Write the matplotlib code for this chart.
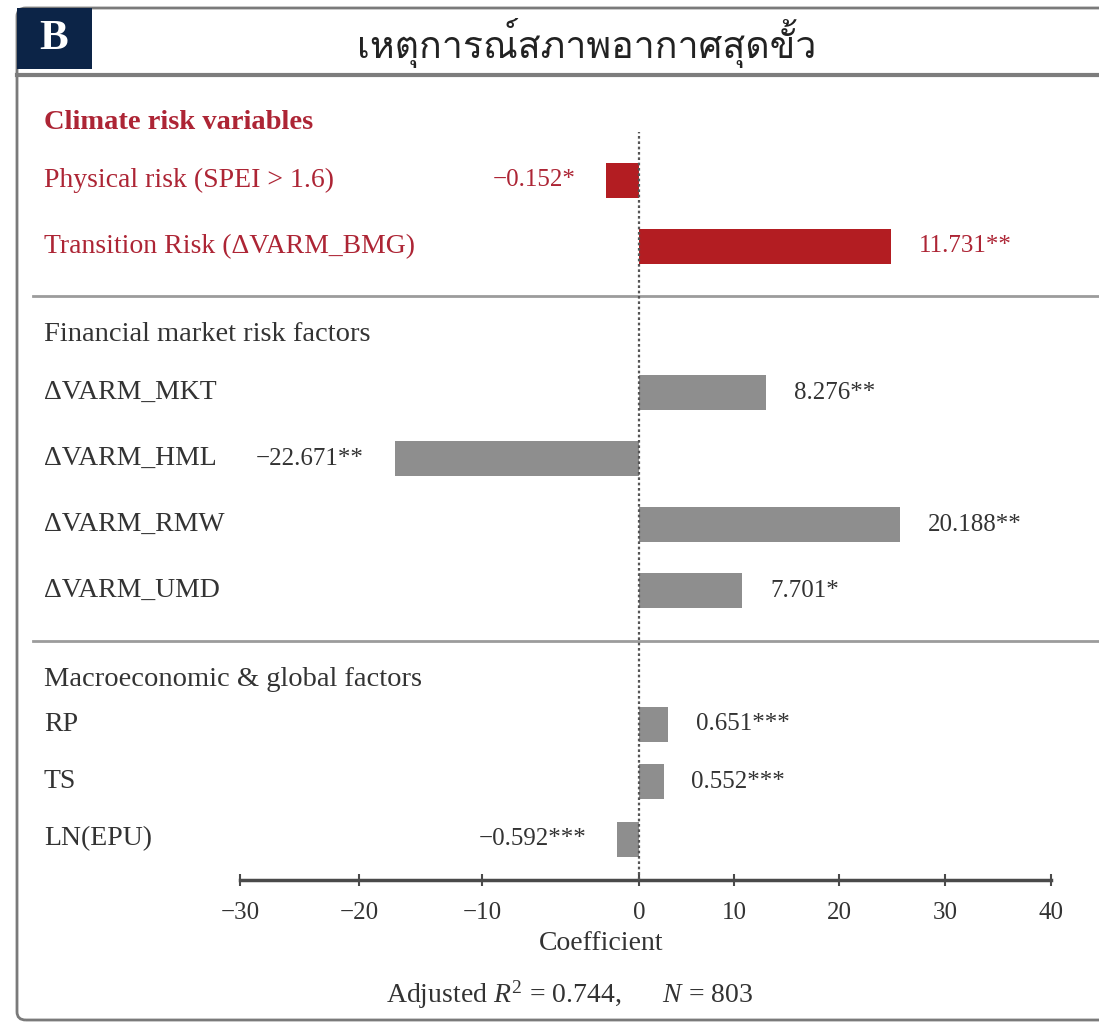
import numpy as np
import matplotlib
matplotlib.use("Agg")
import matplotlib.pyplot as plt
from matplotlib import font_manager
from matplotlib.ft2font import FT2Font
from matplotlib.patches import Rectangle, FancyBboxPatch
from matplotlib.transforms import blended_transform_factory

# ---- data -------------------------------------------------------------
title = "เหตุการณ์สภาพอากาศสุดขั้ว"
panel = "B"
groups = ["Climate risk variables",
          "Financial market risk factors",
          "Macroeconomic & global factors"]
labels = ["Physical risk (SPEI > 1.6)", "Transition Risk (ΔVARM_BMG)",
          "ΔVARM_MKT", "ΔVARM_HML", "ΔVARM_RMW", "ΔVARM_UMD",
          "RP", "TS", "LN(EPU)"]
group_of = [0, 0, 1, 1, 1, 1, 2, 2, 2]
# bar lengths as drawn on the coefficient axis
bar_len = [-2.1, 24.9, 13.1, -17.1, 25.8, 10.8, 3.05, 2.6, -1.4]
# reported coefficients and significance
coefs = [-0.152, 11.731, 8.276, -22.671, 20.188, 7.701, 0.651, 0.552, -0.592]
stars = ["*", "**", "**", "**", "**", "*", "***", "***", "***"]
xticks = [-30, -20, -10, 0, 10, 20, 30, 40]
adj_r2 = 0.744
n_obs = 803

RED = "#b31d22"
RED_TXT = "#ad2535"
GREY_BAR = "#8e8e8e"
TXT = "#333333"
NAVY = "#0c2447"

W, H = 1099, 1023


def fx(px):
    return px / W


def fy(py):
    return 1 - py / H


def thai_font():
    for f in font_manager.fontManager.ttflist:
        try:
            if FT2Font(f.fname).get_char_index(0x0E2B):
                return f.name
        except Exception:
            pass
    return "DejaVu Sans"


plt.rcParams["font.family"] = ["Liberation Serif", "DejaVu Serif"]
plt.rcParams["mathtext.fontset"] = "custom"
plt.rcParams["mathtext.rm"] = "Liberation Serif"
plt.rcParams["mathtext.it"] = "Liberation Serif:italic"

fig = plt.figure(figsize=(W / 100, H / 100), dpi=100)
fig.patch.set_facecolor("white")

# ---- frame ------------------------------------------------------------
fig.patches.append(FancyBboxPatch((fx(17), fy(1020)), fx(1200), fy(8) - fy(1020),
                                  boxstyle="round,pad=0,rounding_size=0.008",
                                  transform=fig.transFigure, fill=False,
                                  edgecolor="#7a7a7a", linewidth=2))
fig.patches.append(Rectangle((fx(17), fy(69)), fx(92) - fx(17), fy(8) - fy(69),
                             transform=fig.transFigure, facecolor=NAVY,
                             edgecolor="none"))
fig.lines.append(plt.Line2D([fx(17), 1], [fy(75), fy(75)], transform=fig.transFigure,
                            color="#7d7d7d", linewidth=3))
fig.text(fx(54), fy(39), panel, color="white", fontsize=31, fontweight="bold",
         ha="center", va="center")
fig.text(fx(587), fy(43), title, family=[thai_font(), "DejaVu Sans"],
         color="#222222", fontsize=27, ha="center", va="center")

# ---- axis scale (piecewise, as printed) ------------------------------
knots = [0, 0.1467, 0.2984, 0.492, 0.609, 0.7386, 0.869, 1.0]


def _pw(x, xs, ys):
    x = np.asarray(x, dtype=float)
    y = np.interp(x, xs, ys)
    y = np.where(x < xs[0], ys[0] + (x - xs[0]) * (ys[1] - ys[0]) / (xs[1] - xs[0]), y)
    y = np.where(x > xs[-1], ys[-1] + (x - xs[-1]) * (ys[-1] - ys[-2]) / (xs[-1] - xs[-2]), y)
    return y


def fwd(x):
    return _pw(x, xticks, knots)


def inv(y):
    return _pw(y, knots, xticks)


# ---- row layout -------------------------------------------------------
head_y, row_y, sep_y = [], [], []
y = 0.0
offsets = [0.88, 0.88, 0.68]
steps = [1.0, 1.0, 0.87]
for g in range(len(groups)):
    head_y.append(y)
    idx = [i for i, k in enumerate(group_of) if k == g]
    for j, i in enumerate(idx):
        row_y.append(y + offsets[g] + j * steps[g])
    if g < len(groups) - 1:
        s = row_y[-1] + 0.76
        sep_y.append(s)
        y = s + 0.58

y_bottom = 11.48
y_top = -0.35
ax = fig.add_axes([fx(240), fy(880), fx(1051) - fx(240), fy(99) - fy(880)])
ax.set_xscale("function", functions=(fwd, inv))
ax.set_xlim(xticks[0], xticks[-1])
ax.set_ylim(y_bottom, y_top)

colors = [RED if g == 0 else GREY_BAR for g in group_of]
ax.barh(row_y, bar_len, height=0.53, color=colors, zorder=2)
ax.axvline(0, ymin=0, ymax=0.958, color="#555555", linestyle=(0, (1.2, 1.2)),
           linewidth=1.6, zorder=3)

lab_tr = blended_transform_factory(fig.transFigure, ax.transData)
for i, (lab, yy) in enumerate(zip(labels, row_y)):
    col = RED_TXT if group_of[i] == 0 else TXT
    ax.text(fx(44), yy, lab, transform=lab_tr, ha="left", va="center",
            fontsize=20, color=col)
    txt = f"{coefs[i]:.3f}".replace("-", "\u2212") + stars[i]
    v = bar_len[i]
    ax.annotate(txt, (v, yy), xytext=(20 if v > 0 else -22, 0),
                textcoords="offset points", ha="left" if v > 0 else "right",
                va="center", fontsize=18, color=col)
for g, yy in enumerate(head_y):
    ax.text(fx(44), yy, groups[g], transform=lab_tr, ha="left", va="center",
            fontsize=20.5, color=RED_TXT if g == 0 else TXT,
            fontweight="bold" if g == 0 else "normal")
for yy in sep_y:
    ax.plot([fx(33), 1], [yy, yy], transform=lab_tr, color="#9c9c9c",
            linewidth=2, clip_on=False)

for s in ["left", "top", "right"]:
    ax.spines[s].set_visible(False)
ax.spines["bottom"].set_color("#4a4a4a")
ax.spines["bottom"].set_linewidth(2.5)
ax.set_yticks([])
ax.set_xticks(xticks)
ax.tick_params(axis="x", direction="inout", length=8, width=1.5, colors="#4a4a4a",
               labelsize=18, labelcolor=TXT, pad=12)
ax.set_xlabel("Coefficient", fontsize=20, color=TXT)
ax.xaxis.set_label_coords((601 - 240) / (1051 - 240), -(943 - 880) / (880 - 99),
                          transform=ax.transAxes)
ax.xaxis.label.set_va("center")
ax.patch.set_alpha(0)

fig.text(fx(570), fy(995), rf"Adjusted $R^2$ = {adj_r2:.3f},      $N$ = {n_obs}",
         ha="center", va="center", fontsize=20, color=TXT)

fig.savefig("out.png", dpi=100)
